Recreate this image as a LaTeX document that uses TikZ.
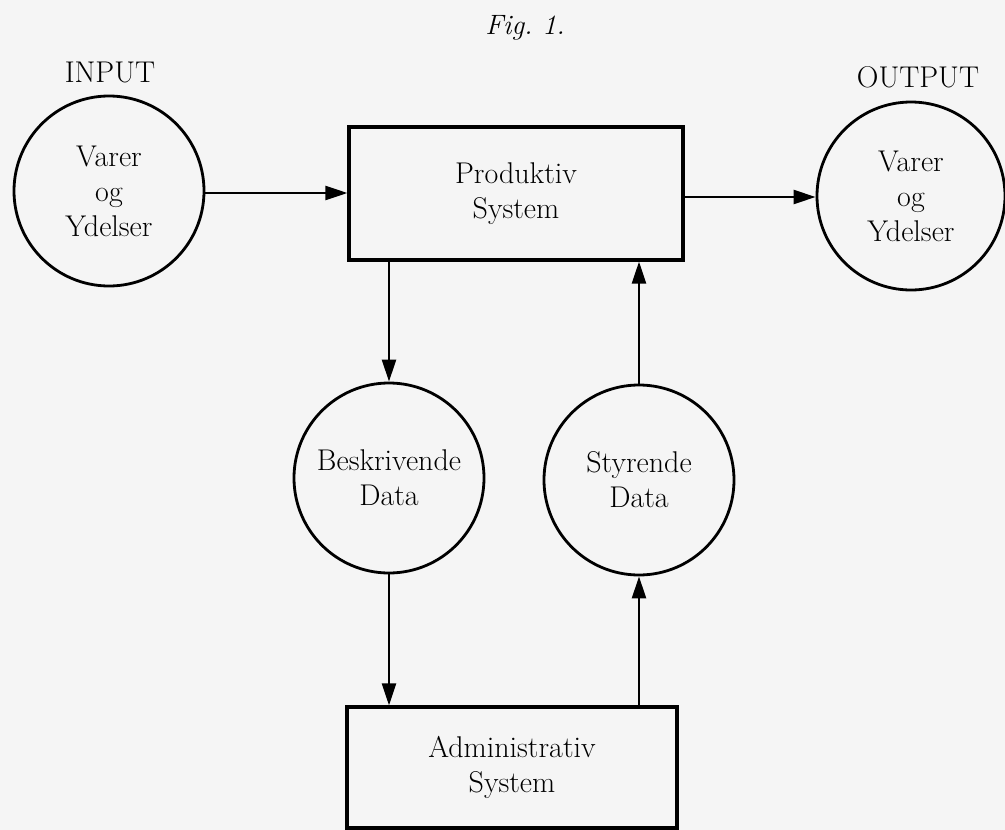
\documentclass[tikz,border=0pt]{standalone}
\usetikzlibrary{arrows.meta}
\begin{document}
\begin{tikzpicture}[x=1pt,y=-1pt,
  every node/.style={font=\fontsize{30}{35}\selectfont, align=center, inner sep=0pt},
  flowcircle/.style={draw, circle, line width=2.8pt, minimum size=190pt},
  sysbox/.style={draw, rectangle, line width=3.2pt},
  flow/.style={line width=2.3pt, -{Triangle[length=22pt,width=14pt]}}]
  % page
  \fill[black!4] (0,0) rectangle (1005,830);
  \useasboundingbox (0,0) rectangle (1005,830);

  % caption and labels
  \node[font=\fontsize{28}{34}\selectfont\itshape] (fig) at (525,28) {Fig.\ 1.};
  \node (inlabel) at (110,72) {INPUT};
  \node (outlabel) at (918,77) {OUTPUT};

  % systems
  \node[sysbox, minimum width=334pt, minimum height=133pt] (prod) at (516,193.5) {Produktiv\\System};
  \node[sysbox, minimum width=330pt, minimum height=121pt] (adm) at (512,767.5) {Administrativ\\System};

  % flows of goods and data
  \node[flowcircle] (in) at (109,191) {Varer\\og\\Ydelser};
  \node[flowcircle, minimum size=188pt] (out) at (911,196) {Varer\\og\\Ydelser};
  \node[flowcircle] (besk) at (389,478) {Beskrivende\\Data};
  \node[flowcircle] (styr) at (639,480) {Styrende\\Data};

  % connectors
  \draw[flow] (in.east |- 0,193) -- (prod.west |- 0,193);
  \draw[flow] (prod.east |- 0,197) -- (out.west |- 0,197);
  \draw[flow] (prod.south -| besk) -- (besk.north);
  \draw[flow] (styr.north) -- (prod.south -| styr);
  \draw[flow] (besk.south) -- (adm.north -| besk);
  \draw[flow] (adm.north -| styr) -- (styr.south);
\end{tikzpicture}
\end{document}
